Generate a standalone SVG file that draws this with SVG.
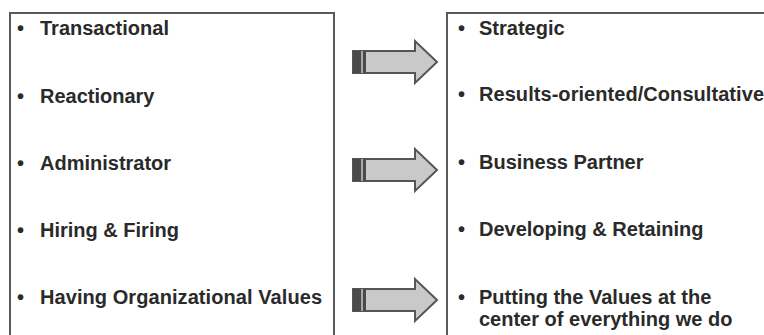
<svg xmlns="http://www.w3.org/2000/svg" width="764" height="335" viewBox="0 0 764 335">
<style>
.box{fill:#fff;stroke:#5a5a5a;stroke-width:2}
.t{font-family:"Liberation Sans",Arial,sans-serif;font-weight:bold;font-size:20px;fill:#2a2a2a}
.b{font-family:"Liberation Sans",Arial,sans-serif;font-weight:bold;font-size:20px;fill:#2a2a2a}
.arr{fill:#c9c9c9;stroke:#555;stroke-width:2;stroke-linejoin:miter}
.dk{fill:#4a4a4a}
.lt{fill:#a8a8a8}
</style>
<defs>
<g id="arrow">
<path class="arr" d="M353,-11 H415 V-21 L437,0 L415,21 V11 H353 Z"/>
<rect class="dk" x="353" y="-11" width="13" height="22"/>
<rect class="lt" x="361" y="-11" width="2" height="22"/>
</g>
</defs>
<rect width="764" height="335" fill="#fff"/>
<g id="left-box">
<rect class="box" x="10" y="13" width="324" height="340"/>
<text class="b" x="17" y="35">•</text><text class="t" x="40" y="35">Transactional</text>
<text class="b" x="17" y="103">•</text><text class="t" x="40" y="103">Reactionary</text>
<text class="b" x="17" y="170">•</text><text class="t" x="40" y="170">Administrator</text>
<text class="b" x="17" y="237">•</text><text class="t" x="40" y="237">Hiring &amp; Firing</text>
<text class="b" x="17" y="304">•</text><text class="t" x="40" y="304" textLength="282" lengthAdjust="spacing">Having Organizational  Values</text>
</g>
<g id="right-box">
<rect class="box" x="447" y="13" width="330" height="340"/>
<text class="b" x="458" y="35">•</text><text class="t" x="479" y="35">Strategic</text>
<text class="b" x="458" y="101">•</text><text class="t" x="479" y="101" textLength="285" lengthAdjust="spacing">Results-oriented/Consultative</text>
<text class="b" x="458" y="169">•</text><text class="t" x="479" y="169">Business Partner</text>
<text class="b" x="458" y="236">•</text><text class="t" x="479" y="236">Developing &amp; Retaining</text>
<text class="b" x="458" y="304">•</text><text class="t" x="479" y="304">Putting the Values at the</text>
<text class="t" x="479" y="326">center of everything we do</text>
</g>
<g id="connectors">
<use href="#arrow" transform="translate(0,62)"/>
<use href="#arrow" transform="translate(0,170)"/>
<use href="#arrow" transform="translate(0,300)"/>
</g>
</svg>
